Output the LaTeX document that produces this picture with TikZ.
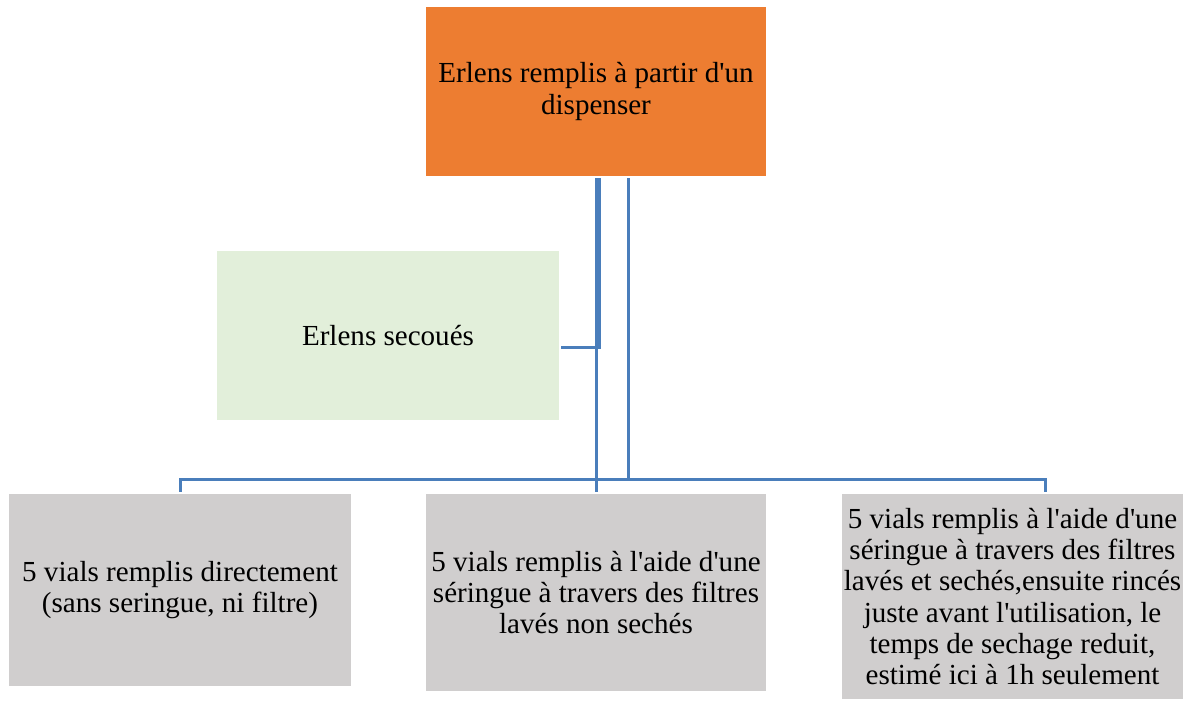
\documentclass[tikz,border=0pt]{standalone}
\usepackage{fontspec}
\setmainfont{Liberation Serif}[Ligatures=TeXOff]
\usetikzlibrary{positioning,calc}
\usepackage{xcolor}
\definecolor{boxorange}{HTML}{ED7D31}
\definecolor{boxgreen}{HTML}{E2EFDA}
\definecolor{boxgray}{HTML}{D0CECE}
\definecolor{linkblue}{HTML}{4A7EBB}
\newlength\pxl
\setlength\pxl{0.75pt}

\begin{document}
\begin{tikzpicture}[x=0.75pt, y=-0.75pt,
    box/.style={inner sep=0pt, align=center, font=\fontsize{21.8}{23.3}\selectfont},
    conn/.style={draw=linkblue, line width=3\pxl, shorten >=2\pxl, shorten <=2\pxl}]
    \useasboundingbox (0,0) rectangle (1191,702);
    % Nodes
    \node[box, fill=boxorange, minimum width=340\pxl, minimum height=169\pxl] (fill) at (596,91.5) {Erlens remplis à partir d'un\\dispenser};
    \node[box, fill=boxgreen, minimum width=342\pxl, minimum height=169\pxl] (shake) at (388,335.5) {Erlens secoués};
    \node[box, fill=boxgray, minimum width=342\pxl, minimum height=192\pxl] (direct) at (180,590) {5 vials remplis directement\\(sans seringue, ni filtre)};
    \node[box, fill=boxgray, minimum width=340\pxl, minimum height=197\pxl] (wet) at (596,592.5) {5 vials remplis à l'aide d'une\\séringue à travers des filtres\\lavés non sechés};
    \node[box, fill=boxgray, minimum width=341\pxl, minimum height=205\pxl] (dried) at (1012.5,596.5) {5 vials remplis à l'aide d'une\\séringue à travers des filtres\\lavés et sechés,ensuite rincés\\juste avant l'utilisation, le\\temps de sechage reduit,\\estimé ici à 1h seulement};
    \coordinate (bus) at (628,479);

    % Connectors
    \draw[conn] ([xshift=3\pxl]fill.south) |- ([yshift=-11.5\pxl]shake.east);
    \draw[conn] (fill.south) -- (wet.north);
    \draw[conn, shorten >=0pt] ([xshift=32\pxl]fill.south) -- (bus);
    \draw[conn, shorten <=0pt] (bus) -| (direct.north);
    \draw[conn, shorten <=0pt] (bus) -| ([xshift=32.5\pxl]dried.north);
\end{tikzpicture}
\end{document}
